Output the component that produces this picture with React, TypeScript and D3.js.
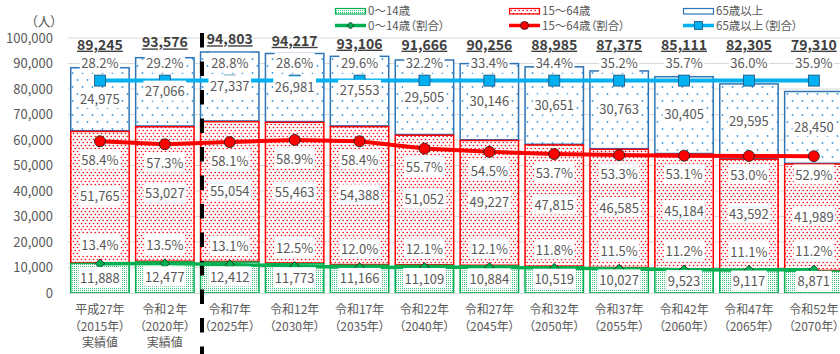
import React, { useEffect, useRef } from "react";
import * as d3 from "d3";

const catLine1 = ["平成27年", "令和２年", "令和7年", "令和12年", "令和17年", "令和22年", "令和27年", "令和32年", "令和37年", "令和42年", "令和47年", "令和52年"];
const catLine2 = ["（2015年）", "（2020年）", "（2025年）", "（2030年）", "（2035年）", "（2040年）", "（2045年）", "（2050年）", "（2055年）", "（2060年）", "（2065年）", "（2070年）"];
const catLine3 = ["実績値", "実績値", "", "", "", "", "", "", "", "", "", ""];

const age0_14 = [11888, 12477, 12412, 11773, 11166, 11109, 10884, 10519, 10027, 9523, 9117, 8871];
const age15_64 = [51765, 53027, 55054, 55463, 54388, 51052, 49227, 47815, 46585, 45184, 43592, 41989];
const age65 = [24975, 27066, 27337, 26981, 27553, 29505, 30146, 30651, 30763, 30405, 29595, 28450];
const totals = [89245, 93576, 94803, 94217, 93106, 91666, 90256, 88985, 87375, 85111, 82305, 79310];

const ratio0_14 = [13.4, 13.5, 13.1, 12.5, 12.0, 12.1, 12.1, 11.8, 11.5, 11.2, 11.1, 11.2];
const ratio15_64 = [58.4, 57.3, 58.1, 58.9, 58.4, 55.7, 54.5, 53.7, 53.3, 53.1, 53.0, 52.9];
const ratio65 = [28.2, 29.2, 28.8, 28.6, 29.6, 32.2, 33.4, 34.4, 35.2, 35.7, 36.0, 35.9];
// level at which the 65+ ratio line is drawn on the (hidden) secondary axis
const ratio65Level = [80.7, 80.7, 80.7, 80.7, 80.7, 80.7, 80.7, 80.7, 80.7, 80.7, 80.7, 80.7];

const yTicks = [0, 10000, 20000, 30000, 40000, 50000, 60000, 70000, 80000, 90000, 100000];

const FONT = "'Noto Sans CJK JP', 'Noto Sans', sans-serif";
const GREEN = "#00B050";
const RED = "#FF0000";
const BLUE_BORDER = "#2E75B6";
const BLUE_LINE = "#00B0F0";
const TXT = "#595959";

export default function App() {
  const ref = useRef<SVGSVGElement | null>(null);

  useEffect(() => {
    const svg = d3.select(ref.current);
    svg.selectAll("*").remove();
    const W = 840, H = 354;
    const idx = d3.range(catLine1.length);
    const x = d3.scaleBand<number>().domain(idx).range([67.5, 846.3]).paddingInner(0.077).paddingOuter(0.0385);
    const y = d3.scaleLinear().domain([0, 100000]).range([293, 38]);
    const yR = d3.scaleLinear().domain([0, 100]).range([300.1, 28.1]);
    const cx = (i: number) => (x(i) as number) + x.bandwidth() / 2;

    const defs = svg.append("defs");
    const pg = defs.append("pattern").attr("id", "pGreen").attr("patternUnits", "userSpaceOnUse").attr("width", 2).attr("height", 2);
    pg.append("rect").attr("width", 2).attr("height", 2).attr("fill", "#fff");
    pg.append("rect").attr("width", 1).attr("height", 1).attr("fill", GREEN).attr("opacity", 0.75);
    const pr = defs.append("pattern").attr("id", "pRed").attr("patternUnits", "userSpaceOnUse").attr("width", 4).attr("height", 6);
    pr.append("rect").attr("width", 4).attr("height", 6).attr("fill", "#fff");
    pr.append("circle").attr("cx", 1.5).attr("cy", 1.5).attr("r", 0.8).attr("fill", RED);
    pr.append("circle").attr("cx", 3.2).attr("cy", 4.5).attr("r", 0.8).attr("fill", RED);
    const pb = defs.append("pattern").attr("id", "pBlue").attr("patternUnits", "userSpaceOnUse").attr("width", 10).attr("height", 14);
    pb.append("rect").attr("width", 10).attr("height", 14).attr("fill", "#fff");
    pb.append("circle").attr("cx", 2.5).attr("cy", 3).attr("r", 0.9).attr("fill", "#3C9BE0");
    pb.append("circle").attr("cx", 7.5).attr("cy", 10).attr("r", 0.9).attr("fill", "#3C9BE0");

    svg.append("rect").attr("width", W).attr("height", H).attr("fill", "#fff");

    // gridlines
    svg.append("g").selectAll("line").data(yTicks.filter(t => t > 0)).join("line")
      .attr("x1", 68).attr("x2", W).attr("y1", d => y(d)).attr("y2", d => y(d))
      .attr("stroke", "#D9D9D9").attr("stroke-width", 1);
    // y tick labels
    svg.append("g").selectAll("text").data(yTicks).join("text")
      .attr("x", 53).attr("y", d => y(d)).attr("dy", "0.36em").attr("text-anchor", "end")
      .attr("font-family", FONT).attr("font-size", 13).attr("fill", TXT)
      .text(d => d3.format(",")(d));
    svg.append("text").attr("x", 57).attr("y", 21).attr("dy", "0.36em").attr("text-anchor", "end")
      .attr("font-family", FONT).attr("font-size", 13).attr("fill", TXT)
      .style("font-feature-settings", "'palt'").text("（人）");

    // bars
    const bars = svg.append("g");
    idx.forEach(i => {
      const g0 = 0, g1 = age0_14[i];
      const r1 = g1 + age15_64[i];
      const b1 = r1 + age65[i];
      const bx = x(i) as number, bw = x.bandwidth();
      bars.append("rect").attr("x", bx + 0.75).attr("y", y(b1) + 0.75).attr("width", bw - 1.5).attr("height", y(r1) - y(b1) - 0.75)
        .attr("fill", "url(#pBlue)").attr("stroke", BLUE_BORDER).attr("stroke-width", 1.5);
      bars.append("rect").attr("x", bx + 0.75).attr("y", y(r1) + 0.75).attr("width", bw - 1.5).attr("height", y(g1) - y(r1) - 0.75)
        .attr("fill", "url(#pRed)").attr("stroke", RED).attr("stroke-width", 1.5);
      bars.append("rect").attr("x", bx + 0.75).attr("y", y(g1) + 0.75).attr("width", bw - 1.5).attr("height", y(g0) - y(g1) - 0.75)
        .attr("fill", "url(#pGreen)").attr("stroke", GREEN).attr("stroke-width", 1.5);
    });

    // x axis line
    svg.append("line").attr("x1", 68).attr("x2", W).attr("y1", y(0) + 0.5).attr("y2", y(0) + 0.5)
      .attr("stroke", "#D9D9D9").attr("stroke-width", 1);

    // x labels
    const xl = svg.append("g").attr("font-family", FONT).attr("font-size", 12).attr("fill", TXT)
      .attr("text-anchor", "middle").style("font-feature-settings", "'palt'");
    idx.forEach(i => {
      xl.append("text").attr("x", cx(i)).attr("y", 310).attr("dy", "0.36em").text(catLine1[i]);
      xl.append("text").attr("x", cx(i)).attr("y", 326.5).attr("dy", "0.36em").text(catLine2[i]);
      if (catLine3[i]) xl.append("text").attr("x", cx(i)).attr("y", 343).attr("dy", "0.36em").text(catLine3[i]);
    });

    // dashed divider
    svg.append("line").attr("x1", 202).attr("x2", 202).attr("y1", 33).attr("y2", H)
      .attr("stroke", "#000").attr("stroke-width", 4).attr("stroke-dasharray", "14.5,14");

    // lines
    const lineG = (vals: number[]) => d3.line<number>().x((_, i) => cx(i)).y(d => yR(d))(vals) as string;
    svg.append("path").attr("d", lineG(ratio0_14)).attr("fill", "none").attr("stroke", GREEN).attr("stroke-width", 3.5);
    svg.append("path").attr("d", lineG(ratio15_64)).attr("fill", "none").attr("stroke", RED).attr("stroke-width", 4);
    svg.append("path").attr("d", lineG(ratio65Level)).attr("fill", "none").attr("stroke", BLUE_LINE).attr("stroke-width", 4);

    const diamond = d3.symbol().type(d3.symbolDiamond2).size(55);
    svg.append("g").selectAll("path").data(ratio0_14).join("path")
      .attr("d", diamond() as string).attr("transform", (d, i) => `translate(${cx(i)},${yR(d)})`)
      .attr("fill", GREEN).attr("stroke", "#1a1a1a").attr("stroke-width", 0.8);
    svg.append("g").selectAll("circle").data(ratio15_64).join("circle")
      .attr("cx", (_, i) => cx(i)).attr("cy", d => yR(d)).attr("r", 5.5)
      .attr("fill", RED).attr("stroke", "#1a1a1a").attr("stroke-width", 0.8);
    svg.append("g").selectAll("rect").data(ratio65Level).join("rect")
      .attr("x", (_, i) => cx(i) - 5.5).attr("y", d => yR(d) - 5.5).attr("width", 11).attr("height", 11)
      .attr("fill", BLUE_LINE).attr("stroke", "#1F4E79").attr("stroke-width", 0.8);

    // labels with white boxes
    const lg = svg.append("g");
    const boxed = (px: number, py: number, txt: string, size = 13) => {
      const t = lg.append("text").attr("x", px).attr("y", py).attr("dy", "0.36em").attr("text-anchor", "middle")
        .attr("font-family", FONT).attr("font-size", size).attr("fill", TXT).text(txt);
      const bb = (t.node() as SVGTextElement).getBBox();
      lg.insert("rect", () => t.node() as any).attr("x", bb.x - 1.5).attr("y", bb.y - 0.5)
        .attr("width", bb.width + 3).attr("height", bb.height + 1).attr("fill", "#fff");
    };
    const fmt = d3.format(",");
    idx.forEach(i => {
      const g1 = age0_14[i];
      const r1 = g1 + age15_64[i];
      const b1 = r1 + age65[i];
      boxed(cx(i), y(g1 / 2), fmt(age0_14[i]));
      boxed(cx(i), y((g1 + r1) / 2), fmt(age15_64[i]));
      boxed(cx(i), y((r1 + b1) / 2), fmt(age65[i]));
      boxed(cx(i), yR(ratio0_14[i]) - 18, ratio0_14[i].toFixed(1) + "%");
      boxed(cx(i), yR(ratio15_64[i]) + 19, ratio15_64[i].toFixed(1) + "%");
      boxed(cx(i), yR(ratio65Level[i]) - 17, ratio65[i].toFixed(1) + "%");
      const ty = Math.min(y(totals[i]) - 12, yR(ratio65Level[i]) - 36);
      lg.append("text").attr("x", cx(i)).attr("y", ty).attr("dy", "0.36em").attr("text-anchor", "middle")
        .attr("font-family", FONT).attr("font-size", 14).attr("font-weight", "bold").attr("fill", "#404040")
        .style("text-decoration", "underline").text(fmt(totals[i]));
    });

    // legend
    const leg = svg.append("g").attr("font-family", FONT).attr("font-size", 11.5).attr("fill", TXT)
      .style("font-feature-settings", "'palt'");
    const items = [
      { x: 335, fill: "url(#pGreen)", stroke: GREEN, label: "0～14歳", line: GREEN, lab2: "0～14歳（割合）", mk: "d" },
      { x: 509, fill: "url(#pRed)", stroke: RED, label: "15～64歳", line: RED, lab2: "15～64歳（割合）", mk: "c" },
      { x: 683, fill: "#fff", stroke: BLUE_BORDER, label: "65歳以上", line: BLUE_LINE, lab2: "65歳以上（割合）", mk: "s" },
    ];
    items.forEach(it => {
      leg.append("rect").attr("x", it.x + 0.5).attr("y", 8.5).attr("width", 30).attr("height", 5.5)
        .attr("fill", it.fill).attr("stroke", it.stroke).attr("stroke-width", 1.2);
      leg.append("text").attr("x", it.x + 33).attr("y", 11).attr("dy", "0.36em").text(it.label);
      leg.append("line").attr("x1", it.x).attr("x2", it.x + 31).attr("y1", 25.5).attr("y2", 25.5)
        .attr("stroke", it.line).attr("stroke-width", 3.5);
      const mx = it.x + 15.5;
      if (it.mk === "d") leg.append("path").attr("d", d3.symbol().type(d3.symbolDiamond2).size(30)() as string)
        .attr("transform", `translate(${mx},25.5)`).attr("fill", GREEN).attr("stroke", "#1a1a1a").attr("stroke-width", 0.8);
      if (it.mk === "c") leg.append("circle").attr("cx", mx).attr("cy", 25.5).attr("r", 4)
        .attr("fill", RED).attr("stroke", "#1a1a1a").attr("stroke-width", 0.8);
      if (it.mk === "s") leg.append("rect").attr("x", mx - 4).attr("y", 21.5).attr("width", 8).attr("height", 8)
        .attr("fill", BLUE_LINE).attr("stroke", "#1F4E79").attr("stroke-width", 0.8);
      leg.append("text").attr("x", it.x + 33).attr("y", 26).attr("dy", "0.36em").text(it.lab2);
    });
  }, []);

  return (
    <svg ref={ref} width={840} height={354} style={{ position: "absolute", left: 0, top: 0, display: "block" }} />
  );
}
